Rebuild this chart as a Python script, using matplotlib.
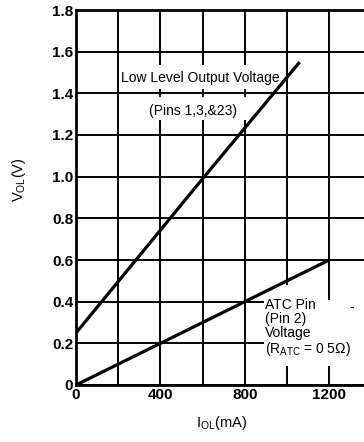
import matplotlib
matplotlib.use("Agg")
import matplotlib.pyplot as plt
from matplotlib.patches import Rectangle
import numpy as np

plt.rcParams['font.family'] = ['Liberation Sans', 'DejaVu Sans']

# Data
low_level_current = [0, 600, 1060]
low_level_voltage = [0.25, 0.99, 1.55]
atc_current = [0, 400, 800, 1200]
atc_voltage = [0.0, 0.2, 0.4, 0.6]
x_grid = [0, 200, 400, 600, 800, 1000, 1200]
x_ticks = [0, 400, 800, 1200]
x_tick_labels = ["0", "400", "800", "1200"]
y_ticks = [0, 0.2, 0.4, 0.6, 0.8, 1.0, 1.2, 1.4, 1.6, 1.8]
y_tick_labels = ["0", "0.2", "0.4", "0.6", "0.8", "1.0", "1.2", "1.4", "1.6", "1.8"]
atc_lines = ["ATC Pin", "(Pin 2)", "Voltage", "(R$_{\\mathregular{ATC}}$ = 0 5\u03a9)"]

W, H = 364, 442
fig = plt.figure(figsize=(W/100, H/100), dpi=100)
ax = fig.add_axes([76/W, 1-385/H, 1-76/W, 375/H])
ax.set_xlim(0, 1365)
ax.set_ylim(0, 1.8)

for xv in x_grid:
    ax.axvline(xv, color='black', lw=1.4, zorder=1)
for yv in y_ticks:
    ax.axhline(yv, color='black', lw=1.4, zorder=2)

# white areas behind the annotations (gridlines interrupted)
ax.add_patch(Rectangle((256, 1.274), 644, 0.264, facecolor='white',
                       edgecolor='none', zorder=1.5))
ax.plot([400, 600, 800], [1.4, 1.4, 1.4], ls='none', marker='|', ms=6,
        mew=1.3, color='black', zorder=2)
ax.add_patch(Rectangle((890, 0.09), 475, 0.32, facecolor='white',
                       edgecolor='none', zorder=2.2))
ax.add_patch(Rectangle((960, 0.41), 80, 0.07, facecolor='white',
                       edgecolor='none', zorder=2.2))

ax.plot(low_level_current, low_level_voltage, color='black', lw=2.3, zorder=3,
        solid_capstyle='butt')
ax.plot(atc_current, atc_voltage, color='black', lw=2.3, zorder=3,
        solid_capstyle='butt')

ax.set_xticks(x_ticks)
ax.set_xticklabels(x_tick_labels, fontsize=11, fontweight='bold')
ax.set_yticks(y_ticks)
ax.set_yticklabels(y_tick_labels, fontsize=11, fontweight='bold')
ax.tick_params(length=0, pad=2)

for s in ['left', 'bottom', 'top']:
    ax.spines[s].set_linewidth(2)
ax.spines['right'].set_visible(False)

fig.text(19/W, 1-180/H, r"V$_{\mathregular{OL}}$(V)", fontsize=10.5, rotation=90,
         ha='center', va='center')
fig.text(222/W, 1-423/H, r"I$_{\mathregular{OL}}$(mA)", fontsize=10.5,
         ha='center', va='center')

bb = dict(facecolor='white', edgecolor='none', pad=0.8)
ax.text(588, 1.472, "Low Level Output Voltage", fontsize=10, ha='center', va='center',
        bbox=bb, zorder=2.5)
ax.text(555, 1.315, "(Pins 1,3,&23)", fontsize=10, ha='center', va='center',
        bbox=bb, zorder=2.5)
ax.text(896, 0.272, "\n".join(atc_lines), fontsize=10, ha='left', va='center',
        linespacing=1.0, zorder=2.5)
ax.text(1308, 0.375, "-", fontsize=10, ha='center', va='center', zorder=2.5)

fig.savefig("out.png", dpi=100)
